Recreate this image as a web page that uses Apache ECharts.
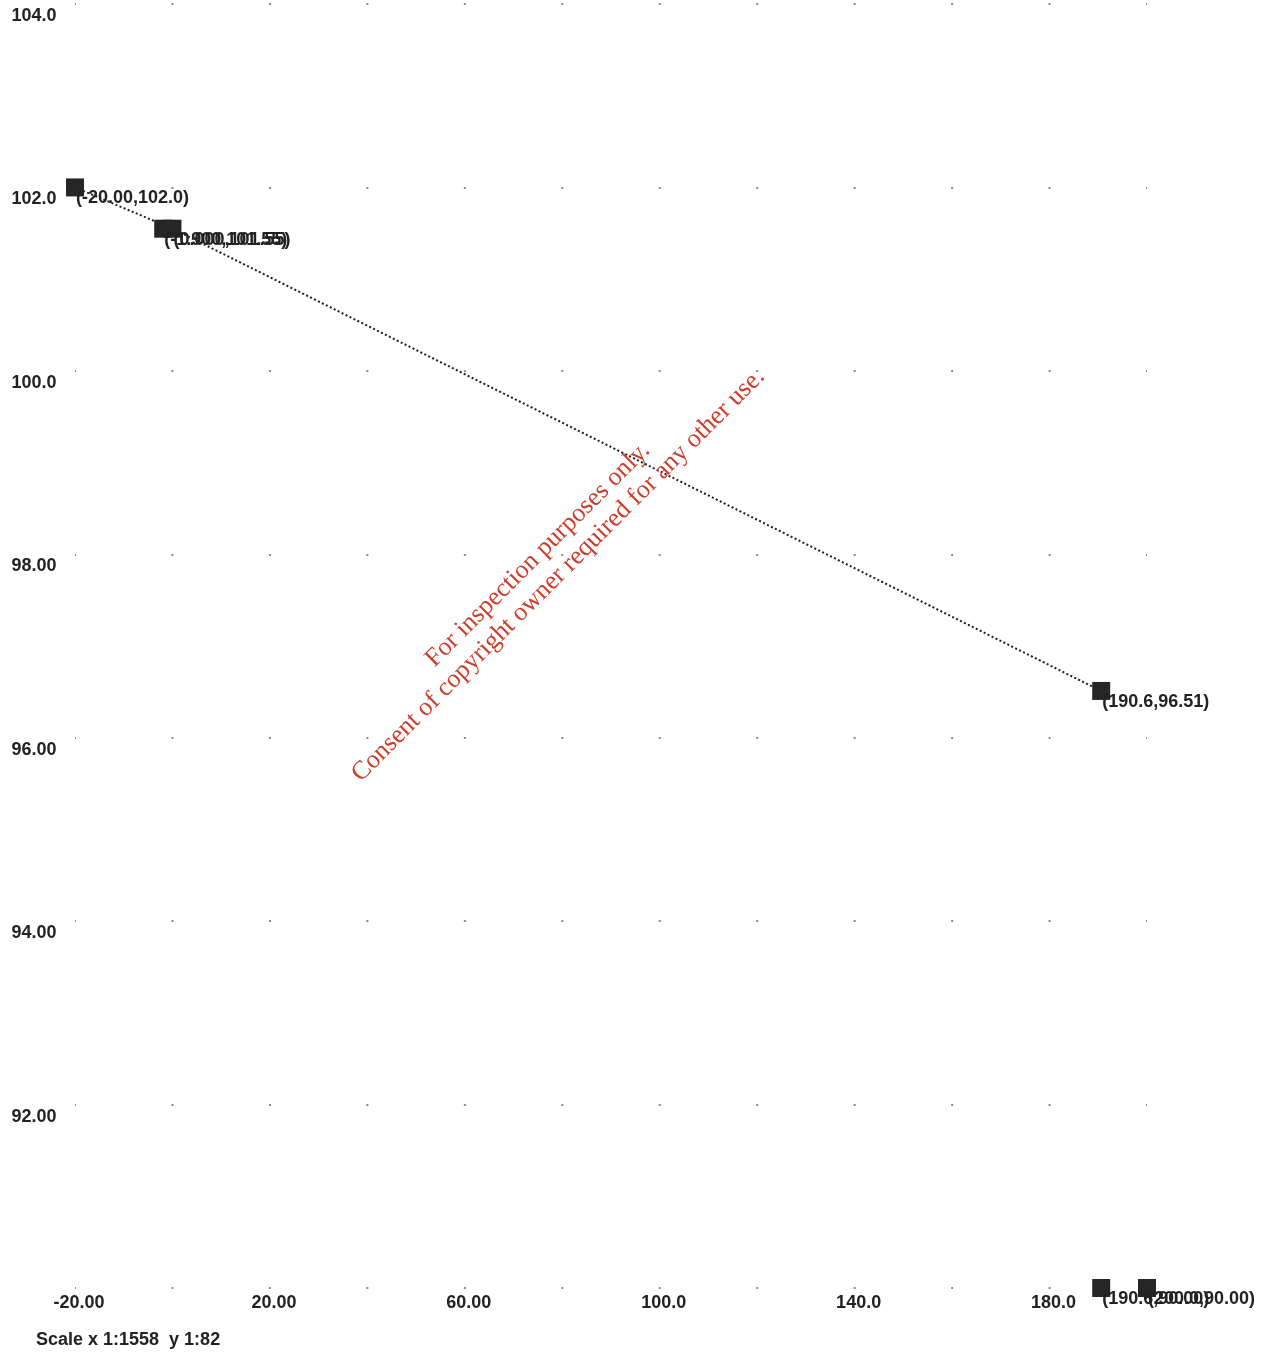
<!DOCTYPE html>
<html>
<head>
<meta charset="utf-8">
<script src="https://cdn.jsdelivr.net/npm/echarts@6/dist/echarts.min.js"></script>
<style>
  html, body { margin: 0; padding: 0; background: #fff; }
  #chart { width: 1273px; height: 1360px; }
</style>
</head>
<body>
<div id="chart"></div>
<script>
// Survey stations: chainage (x) and level (y)
const stationX = [-20.0, -1.9, 0.0, 190.6, 190.6, 200.0];
const stationY = [102.0, 101.55, 101.55, 96.51, 90.0, 90.0];
// Stations joined by the dotted profile line (indices into the arrays above)
const profileIdx = [0, 2, 3];

// Axis ranges and tick spacing
const xMin = -20, xMax = 200, xStep = 40;
const yMin = 90, yMax = 104, yStep = 2;

const scaleNote = 'Scale x 1:1558  y 1:82';
const stampLines = ['For inspection purposes only.', 'Consent of copyright owner required for any other use.'];

// four significant figures, more if the value needs them
function fmt(v) {
  const p4 = v.toPrecision(4);
  return Number(p4) === v ? p4 : v.toPrecision(5);
}

const points = stationX.map((x, i) => [x, stationY[i]]);
const profile = profileIdx.map(i => points[i]);

const txt = '#222222';
const font = { fontFamily: 'Liberation Sans, Arial, sans-serif', fontSize: 18, fontWeight: 'bold', color: txt };

const chart = echarts.init(document.getElementById('chart'), null, { renderer: 'canvas' });
chart.setOption({
  animation: false,
  backgroundColor: '#ffffff',
  grid: { left: 75, right: 126, top: 4, bottom: 72 },
  xAxis: {
    type: 'value', min: xMin, max: xMax, interval: xStep,
    axisLine: { show: false }, axisTick: { show: false },
    splitLine: { show: false },
    axisLabel: Object.assign({}, font, {
      margin: 6, showMaxLabel: false, padding: [0, 0, 0, 8],
      formatter: v => fmt(v)
    })
  },
  yAxis: {
    type: 'value', min: yMin, max: yMax, interval: yStep,
    axisLine: { show: false }, axisTick: { show: false },
    splitLine: {
      show: true,
      lineStyle: { color: '#8a8a8a', width: 2, type: [2, 95.46], dashOffset: 1 }
    },
    axisLabel: Object.assign({}, font, {
      margin: 41, align: 'center', verticalAlign: 'top', padding: [3, 0, 0, 0],
      showMinLabel: false,
      formatter: v => fmt(v)
    })
  },
  series: [
    {
      type: 'line',
      data: profile,
      symbol: 'none',
      lineStyle: { color: '#1e1e1e', width: 2, type: [2, 2.4] },
      z: 2
    },
    {
      type: 'scatter',
      data: points,
      symbol: 'rect',
      symbolSize: 18,
      itemStyle: { color: '#262626', opacity: 1 },
      emphasis: { disabled: true },
      label: Object.assign({}, font, {
        show: true,
        position: 'inside',
        align: 'left',
        verticalAlign: 'middle',
        offset: [1, 11],
        formatter: p => '(' + fmt(p.value[0]) + ',' + fmt(p.value[1]) + ')'
      }),
      z: 3
    }
  ],
  graphic: [
    {
      type: 'text', left: 36, top: 1331,
      style: { text: scaleNote, font: 'bold 18px "Liberation Sans", Arial, sans-serif', fill: txt }
    },
    {
      type: 'text', x: 548, y: 565, rotation: Math.PI / 4, z: 10,
      style: {
        text: stampLines.join('\n'),
        font: '26px "Liberation Serif", "Times New Roman", serif',
        fill: '#cc3d2b', align: 'center', verticalAlign: 'middle', lineHeight: 29
      }
    }
  ]
});
</script>
</body>
</html>
